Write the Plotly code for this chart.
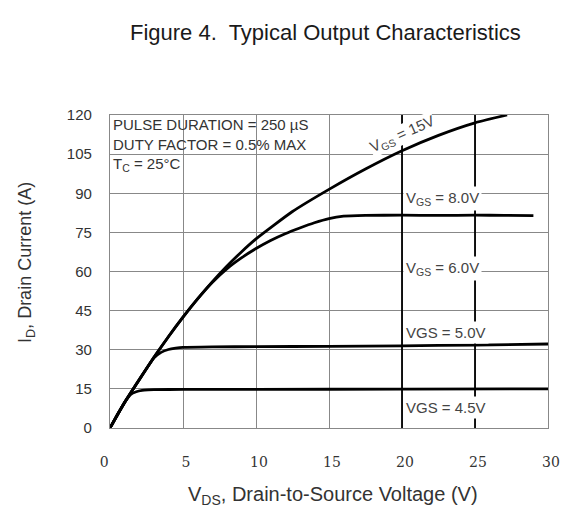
import plotly.graph_objects as go

# ---- data ----
vds_15 = [0, 0.5, 1, 1.5, 2, 3, 4, 5, 6, 7, 8, 9, 10, 12.5, 15, 17.5, 20, 22.5, 25, 27.2]
id_15 = [0, 5, 9.8, 14.2, 18.5, 27, 35, 42.5, 49.5, 56, 62, 67.5, 72.5, 83, 91.5, 99.3, 106.3, 112.2, 117, 120]

vds_8 = [0, 0.5, 1, 1.5, 2, 3, 4, 5, 6, 7, 8, 9, 10, 11, 12, 13, 14, 15, 16, 17.5, 20, 22.5, 25, 27, 29]
id_8 = [0, 5, 9.8, 14.2, 18.5, 27, 35, 42.5, 49.5, 55.8, 61, 65.2, 68.8, 71.9, 74.5, 76.7, 78.7, 80.3,
        81.2, 81.5, 81.6, 81.5, 81.6, 81.5, 81.4]

vds_5 = [0, 0.5, 1, 1.5, 2, 3, 3.5, 4, 4.5, 5, 7, 10, 15, 20, 25, 30]
id_5 = [0, 5, 9.8, 14.2, 18.5, 26.8, 29.0, 30.1, 30.6, 30.9, 31.1, 31.2, 31.3, 31.5, 31.8, 32.2]

vds_45 = [0, 0.5, 1, 1.4, 1.8, 2.2, 2.6, 3, 5, 10, 20, 30]
id_45 = [0, 5, 9.8, 12.8, 13.9, 14.4, 14.6, 14.7, 14.8, 14.8, 14.9, 15]

x_ticks = [0, 5, 10, 15, 20, 25, 30]
x_tick_text = ["0\u2007\u2007", "5", "10", "15", "20", "25", "30"]
y_ticks = [0, 15, 30, 45, 60, 75, 90, 105, 120]
dark_grid_x = [20, 25]

curve_labels = ["V<sub>GS</sub> = 8.0V", "V<sub>GS</sub> = 6.0V", "VGS = 5.0V", "VGS = 4.5V"]
curve_label_y = [88, 61.3, 36.8, 7.7]
label_x = 20.1

title_text = "Figure 4.&nbsp; Typical Output Characteristics"
x_title = "V<sub>DS</sub>, Drain-to-Source Voltage (V)"
y_title = "I<sub>D</sub>, Drain Current (A)"
cond_text = "PULSE DURATION = 250 µS<br>DUTY FACTOR = 0.5% MAX<br>T<sub>C</sub> = 25°C"

# ---- figure (page body has an 8px margin, so the figure is offset by 8px) ----
OFF = 8
W, H = 588 - 2 * OFF, 519 - 2 * OFF
L, T = 110 - OFF, 115 - OFF
R, B = W - (548 - OFF), H - (428 - OFF)
pw, ph = W - L - R, H - T - B


def px_x(px):  # reference-screenshot pixel -> paper x
    return (px - OFF - L) / pw


def px_y(py):  # reference-screenshot pixel -> paper y
    return (H - B - (py - OFF)) / ph


fig = go.Figure()
for xs, ys, name in [(vds_15, id_15, "15V"), (vds_8, id_8, "8V"),
                     (vds_5, id_5, "5V"), (vds_45, id_45, "4.5V")]:
    fig.add_trace(go.Scatter(x=xs, y=ys, mode="lines",
                             line=dict(color="black", width=2.8, shape="spline", smoothing=0.5),
                             name=name, showlegend=False, hoverinfo="skip"))

shapes = []
# white box behind the conditions text (covers grid lines)
shapes.append(dict(type="rect", xref="paper", yref="paper", x0=0.003, x1=px_x(320),
                   y0=px_y(178), y1=0.997, fillcolor="white", line=dict(width=0), layer="between"))
for xv in dark_grid_x:
    shapes.append(dict(type="line", xref="x", yref="y", x0=xv, x1=xv, y0=y_ticks[0], y1=y_ticks[-1],
                       line=dict(color="black", width=1.8), layer="between"))

FONT = "Liberation Sans"
annotations = []
annotations.append(dict(text=title_text, xref="paper", yref="paper", x=px_x(325), y=px_y(33),
                        showarrow=False, font=dict(family=FONT, size=22, color="#1a1a1a"),
                        xanchor="center", yanchor="middle"))
annotations.append(dict(text=x_title, xref="paper", yref="paper", x=px_x(333), y=px_y(495),
                        showarrow=False, font=dict(family=FONT, size=20, color="#333"),
                        xanchor="center", yanchor="middle"))
annotations.append(dict(text=y_title, xref="paper", yref="paper", x=px_x(26), y=px_y(263),
                        showarrow=False, textangle=-90,
                        font=dict(family=FONT, size=18, color="#333"),
                        xanchor="center", yanchor="middle"))
annotations.append(dict(text=cond_text, xref="paper", yref="paper", x=px_x(111), y=px_y(114),
                        showarrow=False, align="left", xanchor="left", yanchor="top",
                        font=dict(family=FONT, size=15, color="#333")))
for txt, yv in zip(curve_labels, curve_label_y):
    annotations.append(dict(text=txt, x=label_x, y=yv, xref="x", yref="y", showarrow=False,
                            xanchor="left", yanchor="middle", bgcolor="white", borderpad=2,
                            font=dict(family=FONT, size=15, color="#444")))
annotations.append(dict(text="V<sub>GS</sub> = 15V", x=20.0, y=112.4, xref="x", yref="y",
                        showarrow=False, textangle=-24, bgcolor="white", borderpad=0,
                        xanchor="center", yanchor="middle",
                        font=dict(family=FONT, size=15, color="#444")))

fig.update_layout(
    width=W, height=H,
    margin=dict(l=L, r=R, t=T, b=B, autoexpand=False),
    paper_bgcolor="white", plot_bgcolor="white",
    shapes=shapes, annotations=annotations,
    xaxis=dict(range=[x_ticks[0], x_ticks[-1]], tickvals=x_ticks, ticktext=x_tick_text, ticks="",
               showgrid=True, gridcolor="#888", gridwidth=1.2, zeroline=False, showline=True,
               linecolor="#888", linewidth=1.2, mirror=True, ticklabelstandoff=21, ticklabelshift=3,
               tickfont=dict(family="DejaVu Serif", size=14, color="#333")),
    yaxis=dict(range=[y_ticks[0], y_ticks[-1]], tickvals=y_ticks, ticks="", showgrid=True,
               gridcolor="#888", gridwidth=1.2, zeroline=False, showline=True, linecolor="#888",
               linewidth=1.2, mirror=True, ticklabelstandoff=14,
               tickfont=dict(family=FONT, size=15, color="#333")),
)

fig.write_html("out.html")
